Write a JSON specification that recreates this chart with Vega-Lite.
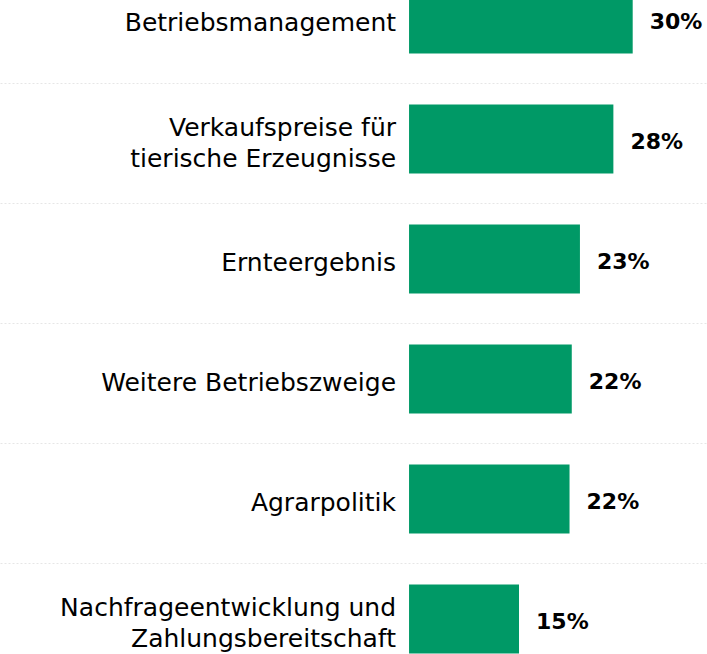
{
  "$schema": "https://vega.github.io/schema/vega-lite/v6.json",
  "autosize": "none",
  "width": 707,
  "height": 720,
  "padding": {"top": -37, "left": 0, "right": 0, "bottom": 0},
  "background": "white",
  "config": {"view": {"stroke": null}},
  "data": {
    "values": [
      {"category": "Betriebsmanagement", "label": ["Betriebsmanagement"], "value": 0.301},
      {"category": "Verkaufspreise für tierische Erzeugnisse", "label": ["Verkaufspreise für", "tierische Erzeugnisse"], "value": 0.275},
      {"category": "Ernteergebnis", "label": ["Ernteergebnis"], "value": 0.23},
      {"category": "Weitere Betriebszweige", "label": ["Weitere Betriebszweige"], "value": 0.219},
      {"category": "Agrarpolitik", "label": ["Agrarpolitik"], "value": 0.216},
      {"category": "Nachfrageentwicklung und Zahlungsbereitschaft", "label": ["Nachfrageentwicklung und", "Zahlungsbereitschaft"], "value": 0.148}
    ]
  },
  "encoding": {
    "y": {
      "field": "category",
      "type": "nominal",
      "sort": null,
      "scale": {"paddingInner": 0, "paddingOuter": 0},
      "axis": {
        "title": null,
        "labels": false,
        "ticks": false,
        "domain": false,
        "grid": true,
        "tickBand": "extent",
        "gridColor": "#e6e6e6",
        "gridDash": [2, 2],
        "gridWidth": 1
      }
    }
  },
  "layer": [
    {
      "mark": {"type": "bar", "size": 69, "yOffset": -4, "color": "#009966"},
      "encoding": {
        "x": {"field": "value", "type": "quantitative", "scale": {"domain": [-0.5505, 0.401], "nice": false, "zero": false}, "axis": null},
        "x2": {"datum": 0}
      }
    },
    {
      "mark": {"type": "text", "align": "left", "baseline": "middle", "dx": 17, "dy": -1, "font": "DejaVu Sans", "fontWeight": "bold", "fontSize": 22, "color": "#000000"},
      "encoding": {
        "x": {"field": "value", "type": "quantitative"},
        "text": {"field": "value", "type": "quantitative", "format": ".0%"}
      }
    },
    {
      "transform": [{"filter": "length(datum.label) == 1"}],
      "mark": {"type": "text", "align": "right", "baseline": "middle", "dx": -13, "font": "DejaVu Sans", "fontSize": 25, "lineHeight": 31, "color": "#000000"},
      "encoding": {
        "x": {"datum": 0, "type": "quantitative"},
        "text": {"field": "label", "type": "nominal"}
      }
    },
    {
      "transform": [{"filter": "length(datum.label) > 1"}],
      "mark": {"type": "text", "align": "right", "baseline": "middle", "dx": -13, "dy": -15.5, "font": "DejaVu Sans", "fontSize": 25, "lineHeight": 31, "color": "#000000"},
      "encoding": {
        "x": {"datum": 0, "type": "quantitative"},
        "text": {"field": "label", "type": "nominal"}
      }
    }
  ]
}
